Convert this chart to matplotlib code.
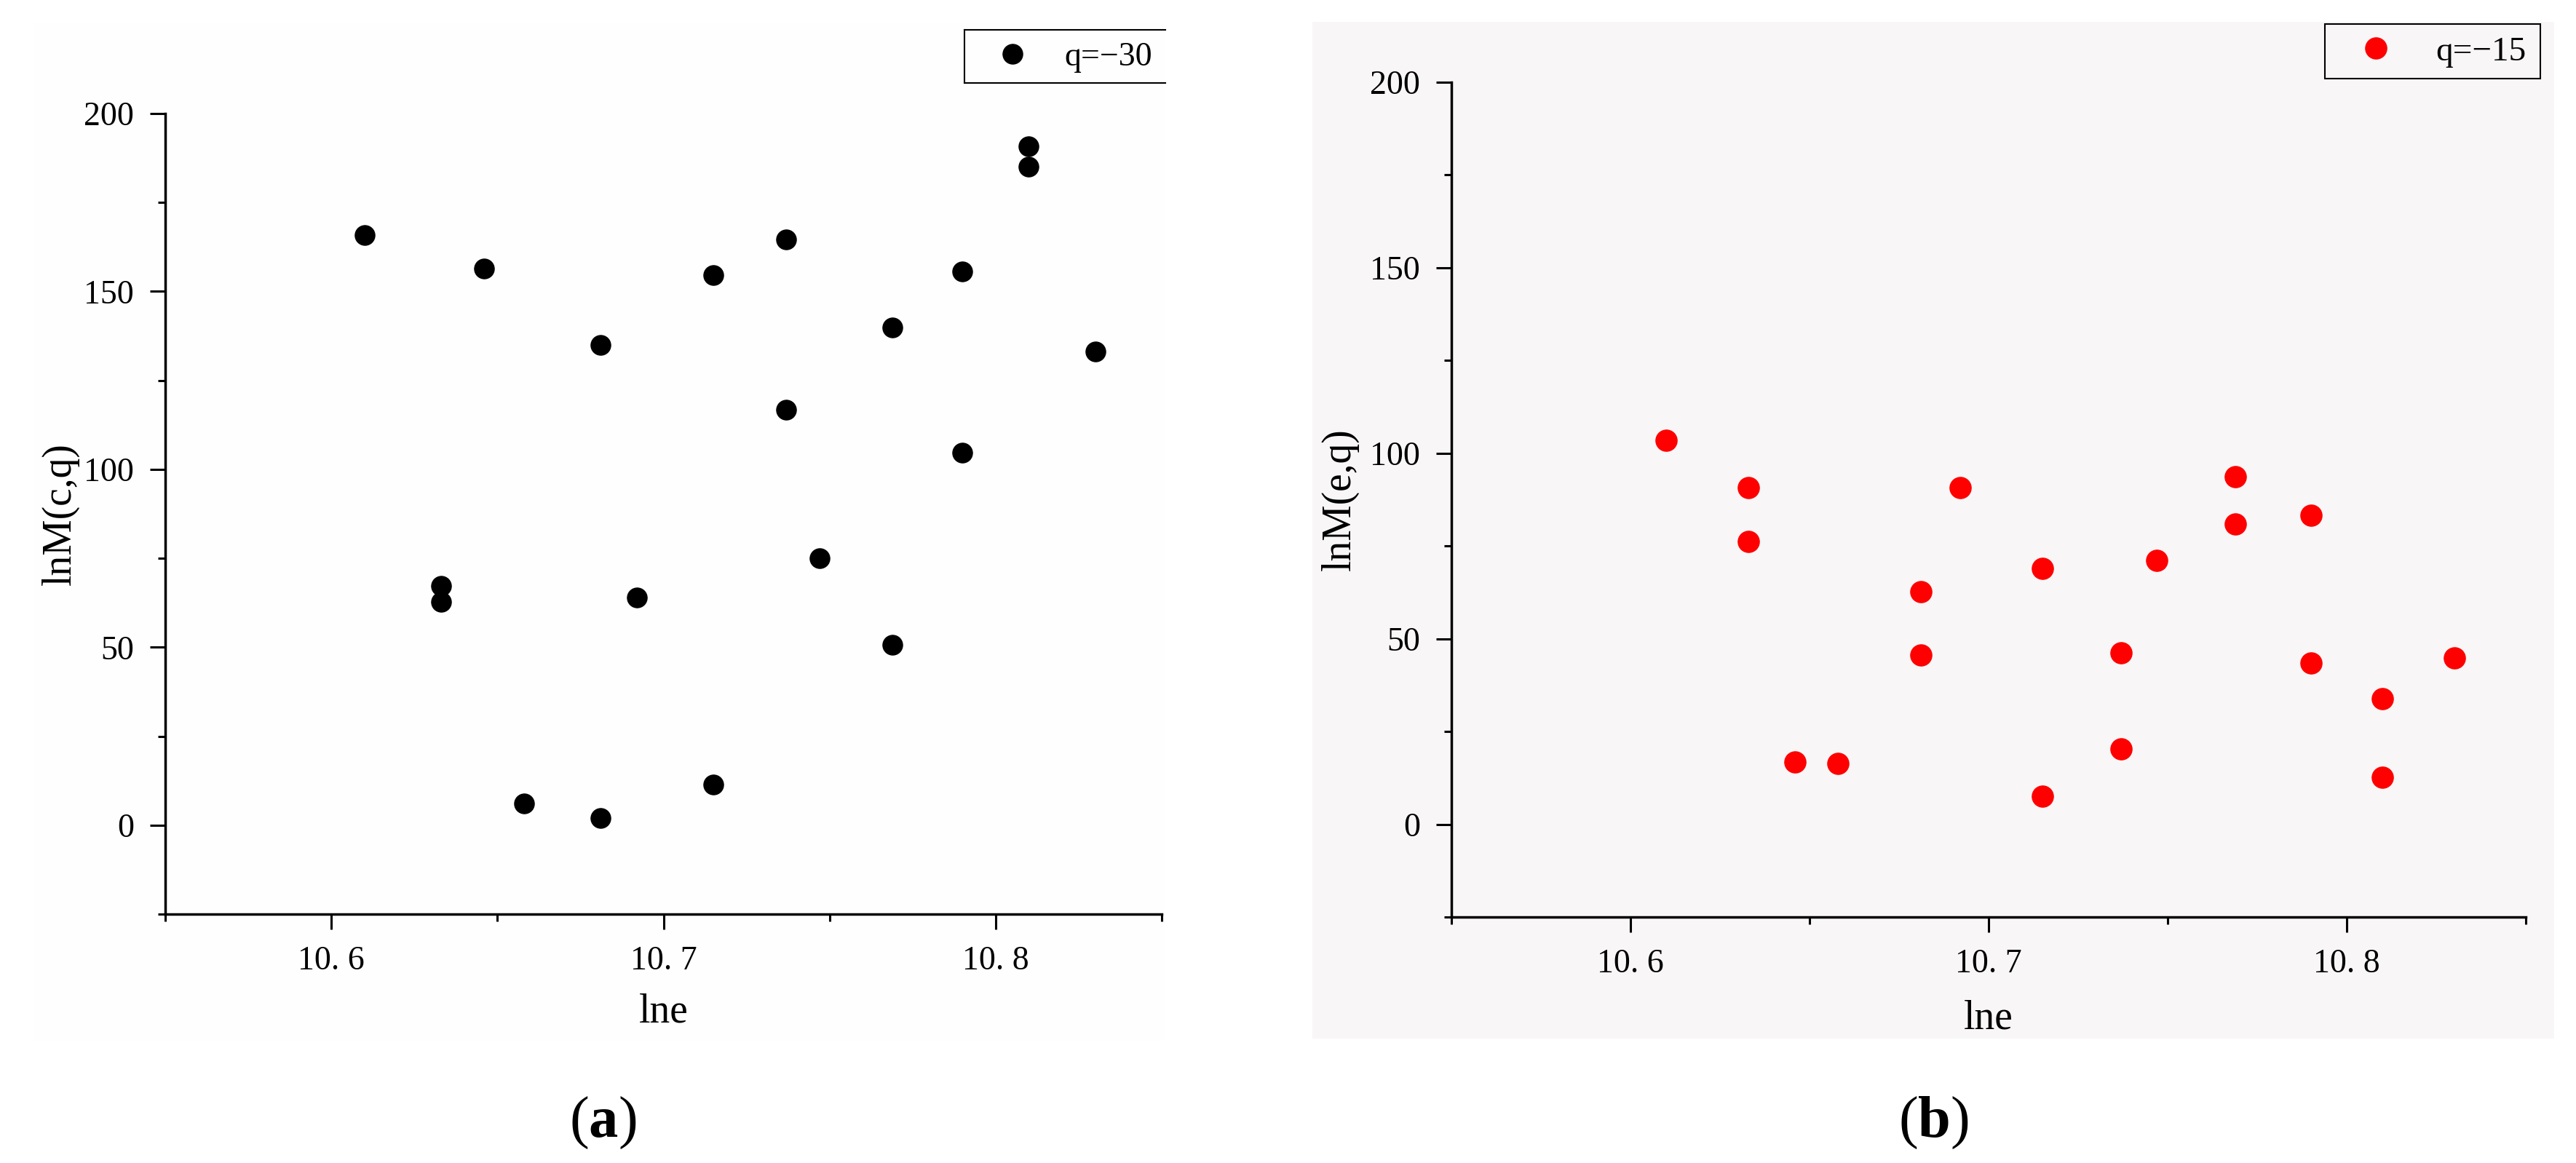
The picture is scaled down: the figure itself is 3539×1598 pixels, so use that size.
import matplotlib
matplotlib.use('Agg')
import matplotlib.pyplot as plt
from matplotlib.patches import Rectangle
from matplotlib.lines import Line2D
from matplotlib.ticker import MultipleLocator, FuncFormatter

plt.rcParams['font.family'] = ['Liberation Serif', 'DejaVu Serif']
plt.rcParams['mathtext.fontset'] = 'custom'
plt.rcParams['mathtext.rm'] = 'Liberation Serif'
plt.rcParams['mathtext.bf'] = 'Liberation Serif:bold'

# x values (lne), shared by both panels
lne = [10.610, 10.633, 10.633, 10.646, 10.658, 10.681, 10.681, 10.692, 10.715, 10.715,
       10.737, 10.737, 10.747, 10.769, 10.769, 10.790, 10.790, 10.810, 10.810, 10.830]
# panel (a), q=-30
lnM_a = [165.8, 67.3, 62.7, 156.5, 6.0, 135.0, 1.9, 64.0, 154.6, 11.5,
         164.6, 116.7, 75.0, 139.8, 50.6, 155.6, 104.6, 190.8, 185.0, 133.1]
# panel (b), q=-15
lnM_b = [103.4, 90.8, 76.2, 16.8, 16.4, 62.6, 45.6, 90.8, 69.0, 7.6,
         46.2, 20.4, 71.2, 93.6, 81.0, 83.2, 43.4, 33.8, 12.6, 44.8]

W, H = 3539, 1598
fig = plt.figure(figsize=(W / 100, H / 100), dpi=100)
fig.patch.set_facecolor('white')


def px(x0, y0, x1, y1):
    # pixel box -> figure fraction rect
    return [x0 / W, 1 - y1 / H, (x1 - x0) / W, (y1 - y0) / H]


# panel backgrounds
r = px(46, 31, 1601, 1430)
fig.add_artist(Rectangle((r[0], r[1]), r[2], r[3], transform=fig.transFigure,
                         facecolor='#fefefe', edgecolor='none', zorder=0))
r = px(1803, 30, 3509, 1427)
fig.add_artist(Rectangle((r[0], r[1]), r[2], r[3], transform=fig.transFigure,
                         facecolor='#f8f6f6', edgecolor='none', zorder=0))


def tick_fmt(v, pos):
    return f'{v:.1f}'.replace('.', '. ')


def style_axes(ax, ylabel, lab_x, lab_y):
    ax.set_facecolor('none')
    ax.set_xlim(10.55, 10.85)
    ax.set_ylim(-25, 200)
    for s in ['top', 'right']:
        ax.spines[s].set_visible(False)
    for s in ['left', 'bottom']:
        ax.spines[s].set_linewidth(2.5)
    ax.xaxis.set_major_locator(MultipleLocator(0.1))
    ax.xaxis.set_minor_locator(MultipleLocator(0.05))
    ax.yaxis.set_major_locator(MultipleLocator(50))
    ax.yaxis.set_minor_locator(MultipleLocator(25))
    ax.xaxis.set_major_formatter(FuncFormatter(tick_fmt))
    ax.tick_params(which='major', direction='out', length=15, width=2.2,
                   labelsize=33, pad=16)
    ax.tick_params(which='minor', direction='out', length=7.5, width=2.2)
    ax.set_xlabel('lne', fontsize=40)
    ax.set_ylabel(ylabel, fontsize=40)
    ax.xaxis.label.set_va('center')
    ax.yaxis.label.set_va('center')
    ax.xaxis.set_label_coords(0.5, lab_x)
    ax.yaxis.set_label_coords(lab_y, 0.5)


# (a)
ax1 = fig.add_axes(px(227, 156, 1596, 1256))
ax1.plot(lne, lnM_a, linestyle='none', marker='o', markersize=19.5,
         color='black', label='q=\u221230', zorder=3)
style_axes(ax1, 'lnM(c,q)', -0.122, -0.105)
leg1 = ax1.legend(loc='center left', bbox_to_anchor=(1368 / W, 1 - 79 / H),
                  bbox_transform=fig.transFigure, frameon=False, fontsize=33,
                  borderaxespad=0, borderpad=0, handlelength=1.0,
                  handletextpad=1.05, numpoints=1)
# legend frame, right side cut off as in the original panel
for (xa, ya, xb, yb) in [(1325, 41, 1601, 41), (1325, 41, 1325, 114), (1325, 114, 1601, 114)]:
    fig.add_artist(Line2D([xa / W, xb / W], [1 - ya / H, 1 - yb / H],
                          transform=fig.transFigure, color='black', linewidth=1.5))

# (b)
ax2 = fig.add_axes(px(1994, 113, 3470, 1260))
ax2.plot(lne, lnM_b, linestyle='none', marker='o', markersize=21,
         color='#ff0000', label='q=\u221215', zorder=3)
style_axes(ax2, 'lnM(e,q)', -0.122, -0.104)
leg2 = ax2.legend(loc='center left', bbox_to_anchor=(3240 / W, 1 - 71 / H),
                  bbox_transform=fig.transFigure, frameon=False, fontsize=34,
                  borderaxespad=0, borderpad=0, handlelength=1.0,
                  handletextpad=1.25, numpoints=1)
r = px(3194, 33, 3490, 108)
fig.add_artist(Rectangle((r[0], r[1]), r[2], r[3], transform=fig.transFigure,
                         facecolor='none', edgecolor='black', linewidth=1.5))

# panel captions
fig.text(828 / W, 1 - 1543 / H, r'($\mathbf{a}$)', fontsize=58, ha='center', va='center')
fig.text(2656 / W, 1 - 1543 / H, r'($\mathbf{b}$)', fontsize=58, ha='center', va='center')

fig.savefig('out.png', dpi=100)
